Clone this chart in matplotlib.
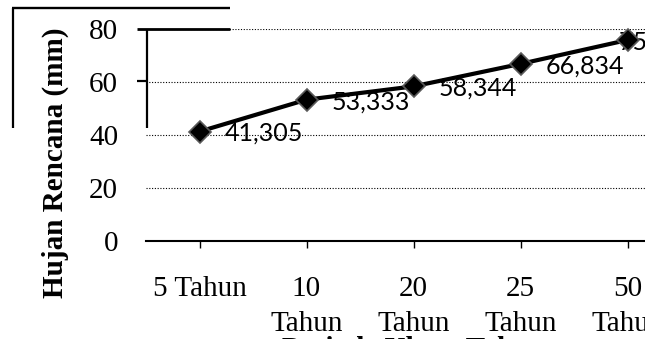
import numpy as np
import matplotlib
import matplotlib.pyplot as plt
from matplotlib.lines import Line2D

matplotlib.use('Agg')

# data
periods = ['5 Tahun', '10\nTahun', '20\nTahun', '25\nTahun', '50\nTahun']
rain = [41.305, 53.333, 58.344, 66.834, 75.849]
y_ticks = [0, 20, 40, 60, 80]

W, H = 645, 339
plt.rcParams['font.family'] = ['Liberation Serif', 'DejaVu Serif']

fig = plt.figure(figsize=(W / 100, H / 100), dpi=100)
ax = fig.add_axes([146 / W, (H - 241) / H, 535 / W, 212 / H])

x = np.arange(len(periods))
ax.plot(x, rain, color='black', lw=3, marker='D', ms=11, mfc='black',
        mec='#595959', mew=1.2, zorder=3, clip_on=False)

# value labels, comma as decimal sign
for i, v in enumerate(rain):
    dx = 25 if i < len(rain) - 1 else -9
    ax.annotate(f'{v:.3f}'.replace('.', ','), (x[i], v), xytext=(dx, 0),
                textcoords='offset pixels', ha='left', va='center_baseline',
                fontsize=18, family=['Lato', 'DejaVu Sans'], zorder=2,
                annotation_clip=False)

ax.set_xlim(-0.5, 4.5)
ax.set_ylim(0, 80)
ax.set_xticks(x, periods)
ax.set_yticks(y_ticks)
ax.tick_params(axis='x', direction='out', length=5, width=1, pad=20, labelsize=21)
ax.tick_params(axis='y', length=0, pad=20, labelsize=21)
for lab in ax.get_xticklabels():
    lab.set_linespacing(1.45)

ax.yaxis.grid(True, color='black', lw=0.8, ls=(0, (1, 1.5)))
ax.set_axisbelow(True)
for s in ['top', 'right', 'left']:
    ax.spines[s].set_visible(False)
ax.spines['bottom'].set_linewidth(1.5)

ax.set_xlabel('Periode Ulang Tahun', fontsize=21, fontweight='bold')
ax.xaxis.set_label_coords(0.5, (241 - 336) / 212)
ax.set_ylabel('Hujan Rencana (mm)', fontsize=21, fontweight='bold')
ax.yaxis.set_label_coords((69 - 146) / 535, (241 - 162.5) / 212)

# leftover frame strokes from the source image (pixel coords)
frame = [((12, 230), (7.5, 7.5), 1.7), ((13, 13), (7.5, 128), 1.6),
         ((137, 230), (28.5, 28.5), 2.0), ((146.5, 146.5), (28.5, 128), 1.6),
         ((137, 146), (81, 81), 1.6)]
for xs, ys, lw in frame:
    fig.add_artist(Line2D([p / W for p in xs], [1 - p / H for p in ys],
                          transform=fig.transFigure, color='black', lw=lw,
                          solid_capstyle='butt'))

fig.savefig('out.png', dpi=100)
